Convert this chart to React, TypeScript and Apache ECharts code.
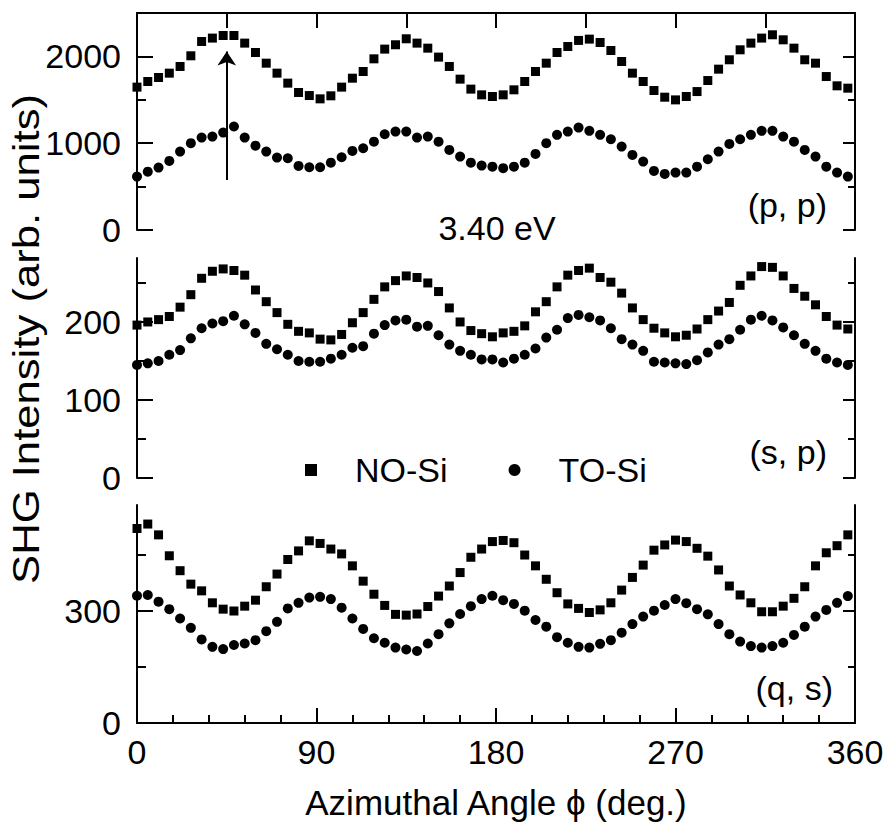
import React, { useEffect, useRef } from "react";
import * as echarts from "echarts";

const FONT = '"Liberation Sans", Arial, Helvetica, sans-serif';

// azimuthal angles (deg.)
const angles = [
  0, 5.4, 10.8, 16.2, 21.6, 27, 32.4, 37.8, 43.2, 48.6, 54, 59.4, 64.8, 70.2, 75.6, 81, 86.4,
  91.8, 97.2, 102.6, 108, 113.4, 118.8, 124.2, 129.6, 135, 140.4, 145.8, 151.2, 156.6, 162,
  167.4, 172.8, 178.2, 183.6, 189, 194.4, 199.8, 205.2, 210.6, 216, 221.4, 226.8, 232.2, 237.6,
  243, 248.4, 253.8, 259.2, 264.6, 270, 275.4, 280.8, 286.2, 291.6, 297, 302.4, 307.8, 313.2,
  318.6, 324, 329.4, 334.8, 340.2, 345.6, 351, 356.4,
];

// (p, p)
const ppNO = [
  1646, 1711, 1757, 1807, 1884, 2007, 2172, 2211, 2241, 2241, 2153, 2045, 1922, 1807, 1692, 1584,
  1549, 1511, 1546, 1646, 1749, 1826, 1972, 2084, 2134, 2203, 2153, 2095, 1992, 1884, 1738, 1623,
  1557, 1538, 1557, 1615, 1711, 1826, 1922, 2045, 2114, 2184, 2199, 2160, 2068, 1941, 1807, 1711,
  1607, 1530, 1499, 1538, 1595, 1722, 1853, 1961, 2076, 2153, 2211, 2249, 2191, 2095, 1961, 1922,
  1768, 1661, 1634,
];
const ppTO = [
  615, 672, 719, 796, 903, 1000, 1065, 1076, 1122, 1192, 1065, 972, 903, 834, 827, 738, 723, 723,
  776, 838, 911, 942, 1018, 1103, 1134, 1134, 1065, 1076, 1018, 923, 846, 776, 742, 730, 712, 730,
  776, 877, 1000, 1096, 1134, 1180, 1142, 1096, 1046, 961, 865, 788, 681, 646, 661, 661, 730, 815,
  903, 992, 1046, 1096, 1142, 1142, 1076, 1018, 923, 846, 730, 661, 615,
];

// (s, p)
const spNO = [
  196, 200, 203, 207, 219, 235, 256, 265, 268, 266, 260, 241, 226, 212, 197, 188, 186, 178, 177,
  184, 199, 212, 229, 245, 253, 259, 257, 250, 239, 218, 200, 189, 185, 181, 186, 188, 195, 213,
  226, 245, 260, 266, 269, 257, 251, 237, 218, 203, 192, 186, 181, 183, 191, 203, 214, 225, 247,
  259, 271, 270, 259, 243, 233, 222, 207, 196, 191,
];
const spTO = [
  145, 147, 150, 158, 164, 179, 192, 198, 201, 208, 197, 186, 172, 165, 158, 150, 149, 149, 153,
  158, 167, 169, 185, 196, 202, 203, 194, 195, 183, 171, 163, 158, 152, 152, 148, 153, 158, 166,
  180, 190, 205, 209, 206, 202, 192, 178, 171, 163, 149, 148, 147, 146, 151, 161, 171, 178, 190,
  203, 208, 202, 193, 183, 172, 163, 153, 148, 145,
];

// (q, s)
const qsNO = [
  521, 533, 504, 448, 408, 372, 354, 322, 305, 300, 313, 329, 365, 399, 438, 461, 488, 481, 466,
  453, 421, 380, 345, 315, 291, 289, 292, 312, 340, 367, 403, 444, 466, 486, 489, 483, 450, 421,
  385, 349, 319, 307, 296, 303, 322, 356, 390, 423, 463, 477, 490, 486, 468, 447, 410, 367, 343,
  322, 298, 298, 313, 334, 365, 421, 456, 475, 504,
];
const qsTO = [
  341, 343, 325, 305, 280, 255, 224, 204, 198, 209, 213, 222, 246, 271, 307, 322, 336, 338, 332,
  309, 280, 252, 227, 215, 202, 197, 193, 213, 238, 267, 292, 313, 332, 341, 329, 319, 301, 276,
  258, 230, 215, 204, 202, 212, 222, 242, 265, 285, 301, 316, 332, 321, 305, 291, 265, 238, 218,
  206, 202, 206, 215, 236, 258, 285, 303, 322, 340,
];

// axis ranges and tick values
const panelMax = [2500, 282, 584];
const yMajorTicks = [
  [0, 1000, 2000],
  [0, 100, 200],
  [0, 300],
];
const yMinorTicks = [
  [500, 1500],
  [50, 150, 250],
  [150, 450],
];
const xMajorTicks = [0, 90, 180, 270, 360];
const xMinorTicks = [
  18, 36, 54, 72, 108, 126, 144, 162, 198, 216, 234, 252, 288, 306, 324, 342,
];
const topTicks = [45, 90, 135, 180, 225, 270, 315];

const seriesNames = ["NO-Si", "TO-Si"];
const panelLabels = ["(p, p)", "(s, p)", "(q, s)"];

const BLACK = "#000";
const lineOn = { show: true, onZero: false, lineStyle: { color: BLACK, width: 2 } };
const lineOff = { show: false, onZero: false };
const tickStyle = { color: BLACK, width: 2 };

function pair(vals: number[]) {
  return vals.map((v, i) => [angles[i], v]);
}

export default function App() {
  const ref = useRef<HTMLDivElement>(null);

  useEffect(() => {
    if (!ref.current) return;
    const chart = echarts.init(ref.current, null, { renderer: "svg" });

    const grids = [
      { left: 137, width: 718, top: 13, height: 217 },
      { left: 137, width: 718, top: 258, height: 220 },
      { left: 137, width: 718, top: 505, height: 218 },
    ];

    const xBase = (g: number, position: string) => ({
      type: "value",
      gridIndex: g,
      min: 0,
      max: 360,
      position,
      axisLine: lineOff,
      axisTick: { show: false },
      axisLabel: { show: false },
      splitLine: { show: false },
    });

    const xAxis: any[] = [
      xBase(0, "bottom"), // 0
      {
        ...xBase(0, "top"), // 1
        axisLine: lineOn,
        axisTick: { show: true, inside: true, length: 15, lineStyle: tickStyle, customValues: topTicks },
      },
      xBase(1, "bottom"), // 2
      xBase(1, "top"), // 3
      {
        ...xBase(2, "bottom"), // 4
        axisLine: lineOn,
        axisTick: { show: true, inside: true, length: 15, lineStyle: tickStyle, customValues: xMajorTicks },
        axisLabel: {
          show: true,
          fontSize: 34,
          fontFamily: FONT,
          color: BLACK,
          margin: 12,
          customValues: xMajorTicks,
        },
        name: "Azimuthal Angle ϕ (deg.)",
        nameLocation: "middle",
        nameGap: 62,
        nameTextStyle: { fontSize: 35, fontFamily: FONT, color: BLACK },
      },
      {
        ...xBase(2, "bottom"), // 5
        axisTick: { show: true, inside: true, length: 8, lineStyle: tickStyle, customValues: xMinorTicks },
      },
      xBase(2, "top"), // 6
    ];

    const yAxis: any[] = [];
    for (let g = 0; g < 3; g++) {
      const base = {
        type: "value",
        gridIndex: g,
        min: 0,
        max: panelMax[g],
        splitLine: { show: false },
      };
      yAxis.push({
        ...base,
        position: "left",
        axisLine: lineOn,
        axisTick: { show: true, inside: true, length: 16, lineStyle: tickStyle, customValues: yMajorTicks[g] },
        axisLabel: {
          show: true,
          fontSize: 34,
          fontFamily: FONT,
          color: BLACK,
          margin: 16,
          customValues: yMajorTicks[g],
          formatter: (v: number) => String(v),
        },
      });
      yAxis.push({
        ...base,
        position: "left",
        axisLine: lineOff,
        axisTick: { show: true, inside: true, length: 9, lineStyle: tickStyle, customValues: yMinorTicks[g] },
        axisLabel: { show: false },
      });
      yAxis.push({
        ...base,
        position: "right",
        axisLine: lineOn,
        axisTick: { show: true, inside: true, length: 12, lineStyle: tickStyle, customValues: yMajorTicks[g] },
        axisLabel: { show: false },
      });
      yAxis.push({
        ...base,
        position: "right",
        axisLine: lineOff,
        axisTick: { show: true, inside: true, length: 7, lineStyle: tickStyle, customValues: yMinorTicks[g] },
        axisLabel: { show: false },
      });
    }

    const panels = [
      [ppNO, ppTO],
      [spNO, spTO],
      [qsNO, qsTO],
    ];
    const xIdx = [0, 2, 4];
    const series: any[] = [];
    panels.forEach((p, g) => {
      p.forEach((vals, k) => {
        const s: any = {
          type: "scatter",
          name: seriesNames[k],
          xAxisIndex: xIdx[g],
          yAxisIndex: g * 4,
          symbol: k === 0 ? "rect" : "circle",
          symbolSize: k === 0 ? 9 : 10,
          itemStyle: { color: BLACK, opacity: 1 },
          data: pair(vals),
          silent: true,
        };
        if (g === 0 && k === 0) {
          s.markLine = {
            silent: true,
            symbol: ["none", "arrow"],
            symbolSize: 14,
            label: { show: false },
            lineStyle: { color: BLACK, width: 2, type: "solid" },
            data: [[{ coord: [45, 577] }, { coord: [45, 2057] }]],
          };
        }
        series.push(s);
      });
    });

    const txt = (
      text: string,
      x: number,
      y: number,
      align: string,
      size = 34,
      rotation = 0,
      scaleX = 1
    ) => ({
      type: "text",
      x,
      y,
      rotation,
      scaleX,
      silent: true,
      style: {
        text,
        fill: BLACK,
        fontSize: size,
        fontFamily: FONT,
        align,
        verticalAlign: "middle",
      },
    });

    chart.setOption({
      animation: false,
      backgroundColor: "#fff",
      grid: grids,
      xAxis,
      yAxis,
      series,
      legend: {
        data: seriesNames,
        left: 300,
        top: 448,
        itemWidth: 12,
        itemHeight: 12,
        itemGap: 61,
        selectedMode: false,
        textStyle: { fontSize: 34, fontFamily: FONT, color: BLACK, padding: [0, 0, 0, 33] },
      },
      graphic: [
        txt("3.40 eV", 497, 228, "center"),
        txt(panelLabels[0], 827, 205, "right"),
        txt(panelLabels[1], 827, 452, "right"),
        txt(panelLabels[2], 833, 688, "right"),
        txt("SHG Intensity (arb. units)", 26, 339, "center", 37, Math.PI / 2, 1.18),
      ],
    });

    return () => chart.dispose();
  }, []);

  return (
    <div
      ref={ref}
      style={{ position: "absolute", left: 0, top: 0, width: 888, height: 825, background: "#fff" }}
    />
  );
}
